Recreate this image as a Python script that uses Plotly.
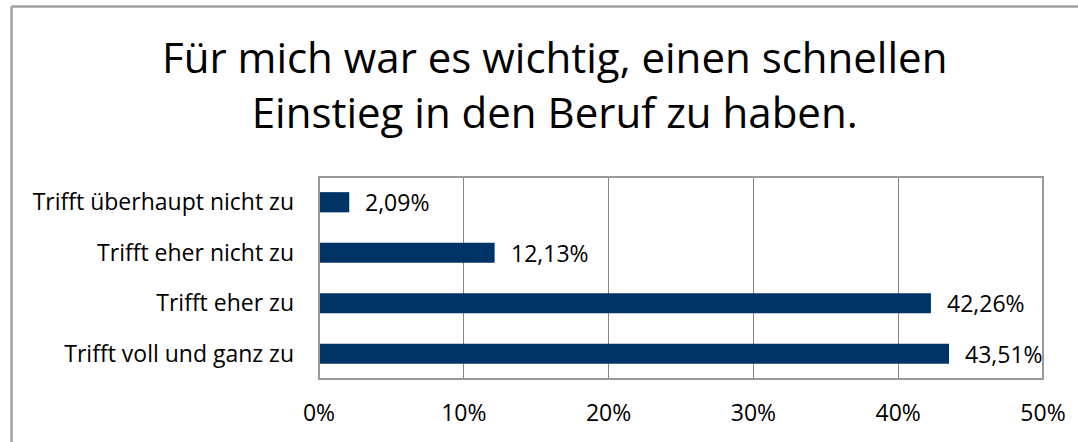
import plotly.graph_objects as go

categories = ["Trifft voll und ganz zu", "Trifft eher zu", "Trifft eher nicht zu", "Trifft überhaupt nicht zu"]
values = [43.51, 42.26, 12.13, 2.09]
tick_vals = [0, 10, 20, 30, 40, 50]
tick_text = ["0%", "10%", "20%", "30%", "40%", "50%"]
title_text = "Für mich war es wichtig, einen schnellen<br>Einstieg in den Beruf zu haben."

W, H = 1078, 442
L, R, T, B = 319, 1078 - 1043, 177, 442 - 379
pw, ph = W - L - R, H - T - B

def px_x(p):
    return (p - L) / pw

def px_y(p):
    return (H - B - p) / ph

FONT = "Open Sans"
BAR = "#003366"
GRID = "#868686"
FS = 23

fig = go.Figure(go.Bar(
    x=values, y=categories, orientation="h",
    marker=dict(color=BAR, line=dict(width=0)),
    width=0.4, hoverinfo="skip",
))

annotations = []
for c, v in zip(categories, values):
    annotations.append(dict(
        x=v, y=c, xref="x", yref="y", text=f"{v:.2f}".replace(".", ",") + "%",
        showarrow=False, xanchor="left", yanchor="middle", xshift=14,
        font=dict(family=FONT, size=FS, color="#000000"),
    ))
annotations.append(dict(
    x=px_x(554), y=px_y(84), xref="paper", yref="paper", text=title_text,
    showarrow=False, xanchor="center", yanchor="middle", align="center",
    font=dict(family=FONT, size=42, color="#000000"),
))

shapes = [
    dict(type="rect", xref="paper", yref="paper", x0=0, x1=1, y0=0, y1=1,
         line=dict(color="#9a9a9a", width=2), layer="above"),
    # outer chart frame: only top and left edges fall inside the picture
    dict(type="line", xref="paper", yref="paper",
         x0=px_x(11.5), x1=px_x(1090), y0=px_y(6.5), y1=px_y(6.5),
         line=dict(color="#a0a0a0", width=2.5), layer="above"),
    dict(type="line", xref="paper", yref="paper",
         x0=px_x(11.5), x1=px_x(11.5), y0=px_y(6.5), y1=px_y(460),
         line=dict(color="#a0a0a0", width=2.5), layer="above"),
]

fig.update_layout(
    width=W, height=H,
    margin=dict(l=L, r=R, t=T, b=B, autoexpand=False),
    paper_bgcolor="white", plot_bgcolor="white",
    showlegend=False,
    annotations=annotations,
    shapes=shapes,
    font=dict(family=FONT, size=FS, color="#000000"),
    xaxis=dict(
        range=[0, 50], tickvals=tick_vals, ticktext=tick_text,
        showgrid=True, gridcolor=GRID, gridwidth=1,
        zeroline=False, showline=False, ticks="",
        ticklabelstandoff=18,
        tickfont=dict(family=FONT, size=FS, color="#000000"),
        fixedrange=True,
    ),
    yaxis=dict(
        categoryorder="array", categoryarray=categories,
        range=[-0.5, 3.5],
        showgrid=False, zeroline=False, showline=False, ticks="",
        ticklabelstandoff=24,
        tickfont=dict(family=FONT, size=FS, color="#000000"),
        fixedrange=True,
    ),
)

fig.write_html(
    "out.html",
    config={"displayModeBar": False},
    post_script="document.body.style.margin='0';document.body.style.overflow='hidden';",
)
